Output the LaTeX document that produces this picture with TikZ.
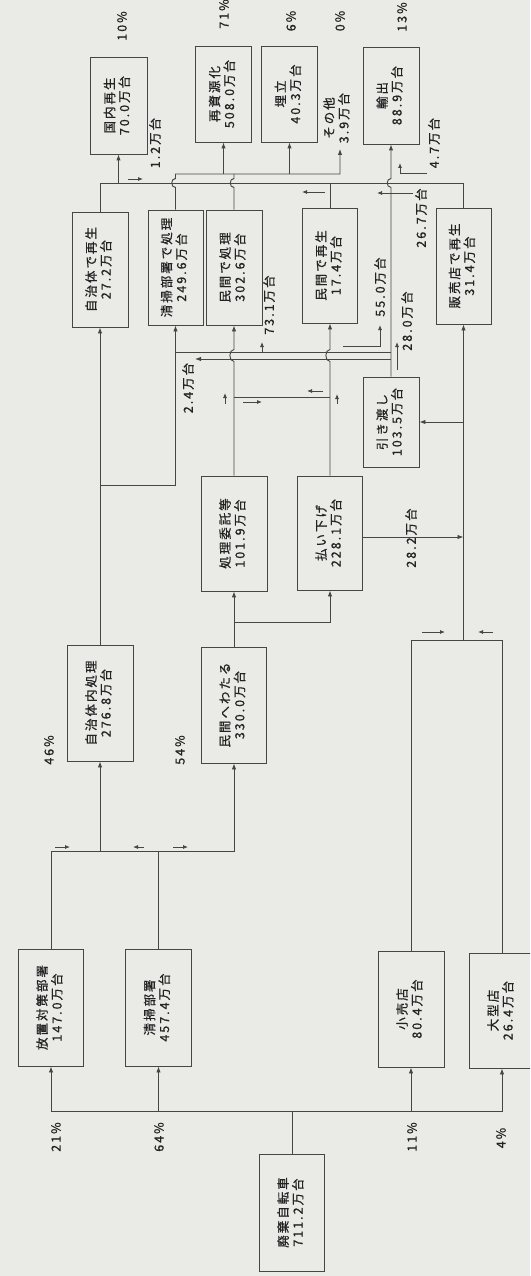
\documentclass[tikz,border=0pt]{standalone}
\usepackage{fontspec}
\newfontfamily\jp[LetterSpace=16,FakeBold=0.7]{Noto Sans CJK JP}
\usetikzlibrary{arrows.meta}
\definecolor{bg}{RGB}{234,234,231}
\definecolor{ln}{RGB}{70,70,70}
\definecolor{tx}{RGB}{35,35,35}
\newcommand\twol[2]{\rotatebox{90}{\begin{tabular}{@{}c@{}}#1\\#2\end{tabular}}}
\newcommand\onel[1]{\rotatebox{90}{#1}}
\begin{document}
\begin{tikzpicture}[x=1pt,y=-1pt,
  box/.style={draw=ln, line width=0.9pt, inner sep=0pt, text=tx, font=\jp\fontsize{12.5}{14}\selectfont},
  lab/.style={inner sep=0pt, text=tx, font=\jp\fontsize{12.5}{14}\selectfont},
  line/.style={draw=ln, line width=0.9pt},
  arr/.style={line, -{Latex[length=6pt,width=4.5pt]}},
  sarr/.style={draw=ln, line width=0.8pt, -{Latex[length=5pt,width=4pt]}},
]
\useasboundingbox (0,0) rectangle (530,1276);
\clip (0,0) rectangle (530,1276);
\fill[bg] (0,0) rectangle (530,1276);

% ---------- boxes ----------
\node[box, minimum width=57pt, minimum height=97pt] (kokunai) at (118.5,105.5) {\twol{国内再生}{70.0万台}};
\node[box, minimum width=56pt, minimum height=96pt] (shigen) at (223.5,94) {\twol{再資源化}{508.0万台}};
\node[box, minimum width=56pt, minimum height=96pt] (umetate) at (289.5,94) {\twol{埋立}{40.3万台}};
\node[box, minimum width=56pt, minimum height=97pt] (yushutsu) at (391,95.5) {\twol{輸出}{88.9万台}};

\node[box, minimum width=56pt, minimum height=115pt] (jichisai) at (100,269.5) {\twol{自治体で再生}{27.2万台}};
\node[box, minimum width=55pt, minimum height=115pt] (seisoshori) at (175.5,267.5) {\twol{清掃部署で処理}{249.6万台}};
\node[box, minimum width=56pt, minimum height=115pt] (minkanshori) at (234,267.5) {\twol{民間で処理}{302.6万台}};
\node[box, minimum width=55pt, minimum height=115pt] (minkansaisei) at (330,265.5) {\twol{民間で再生}{17.4万台}};
\node[box, minimum width=55pt, minimum height=116pt] (hanbaiten) at (463.5,266) {\twol{販売店で再生}{31.4万台}};

\node[box, minimum width=56pt, minimum height=90pt] (hikiwatashi) at (391,422) {\twol{引き渡し}{103.5万台}};
\node[box, minimum width=66pt, minimum height=115pt] (itaku) at (234,533.5) {\twol{処理委託等}{101.9万台}};
\node[box, minimum width=65pt, minimum height=114pt] (haraisage) at (330,533) {\twol{払い下げ}{228.1万台}};

\node[box, minimum width=66pt, minimum height=116pt] (jichinai) at (100,703) {\twol{自治体内処理}{276.8万台}};
\node[box, minimum width=65pt, minimum height=116pt] (minkanwataru) at (234,705) {\twol{民間へわたる}{330.0万台}};

\node[box, minimum width=65pt, minimum height=117pt] (hochi) at (51,1007.5) {\twol{放置対策部署}{147.0万台}};
\node[box, minimum width=66pt, minimum height=117pt] (seiso) at (158.5,1007.5) {\twol{清掃部署}{457.4万台}};
\node[box, minimum width=66pt, minimum height=116pt] (kouri) at (411,1009) {\twol{小売店}{80.4万台}};
\node[box, minimum width=65pt, minimum height=115pt] (ogata) at (502,1010.5) {\twol{大型店}{26.4万台}};
\node[box, minimum width=65pt, minimum height=117pt] (haiki) at (292,1212.5) {\twol{廃棄自転車}{711.2万台}};

% ---------- labels ----------
\node[lab] (p10) at (122,26) {\onel{10\%}};
\node[lab] (p71) at (224,14) {\onel{71\%}};
\node[lab] (p6) at (291,21) {\onel{6\%}};
\node[lab] (p0) at (340,21) {\onel{0\%}};
\node[lab] (p13) at (402,17) {\onel{13\%}};
\node[lab] (sonotatxt) at (338,118) {\twol{その他}{3.9万台}};
\node[lab] (l12) at (155,143) {\onel{1.2万台}};
\node[lab] (l47) at (434,143) {\onel{4.7万台}};
\node[lab] (l267) at (421,218) {\onel{26.7万台}};
\node[lab] (l731) at (269,305) {\onel{73.1万台}};
\node[lab] (l550) at (380,287) {\onel{55.0万台}};
\node[lab] (l280) at (407,321) {\onel{28.0万台}};
\node[lab] (l24) at (188,388) {\onel{2.4万台}};
\node[lab] (l282) at (411,538) {\onel{28.2万台}};
\node[lab] (p46) at (49,750) {\onel{46\%}};
\node[lab] (p54) at (180,750) {\onel{54\%}};
\node[lab] (p21) at (56,1137) {\onel{21\%}};
\node[lab] (p64) at (159,1137) {\onel{64\%}};
\node[lab] (p11) at (412,1137) {\onel{11\%}};
\node[lab] (p4) at (501,1138) {\onel{4\%}};

% ---------- level coordinates ----------
\coordinate (L1111) at (0,1111);
\coordinate (L851) at (0,851);
\coordinate (L640) at (0,640);
\coordinate (L622) at (0,622);
\coordinate (L537) at (0,537);
\coordinate (L485) at (0,485);
\coordinate (L397) at (0,397);
\coordinate (L359) at (0,359);
\coordinate (L352) at (0,352);
\coordinate (L183) at (0,183);
\coordinate (L174) at (0,174);
\coordinate (sonota) at (340,149);
\coordinate (a24) at (195,359);

% ---------- connectors: bottom ----------
\draw[line] (haiki.north) -- (haiki.north |- L1111);
\draw[arr] (haiki.north |- L1111) -| (hochi.south);
\draw[arr] (haiki.north |- L1111) -| (seiso.south);
\draw[arr] (haiki.north |- L1111) -| (kouri.south);
\draw[arr] (haiki.north |- L1111) -| (ogata.south);

\draw[arr] (hochi.north) -- (hochi.north |- L851) -| (minkanwataru.south);
\draw[line] (seiso.north) -- (seiso.north |- L851);
\draw[arr] (jichinai.south |- L851) -- (jichinai.south);

\draw[line] (kouri.north) |- (ogata.north |- L640) -- (ogata.north);
\draw[arr] (hanbaiten.south |- L640) -- (hanbaiten.south);
\draw[arr] (hanbaiten.south |- hikiwatashi.east) -- (hikiwatashi.east);
\draw[arr] (haraisage.east |- L537) -- (hanbaiten.south |- L537);

% ---------- middle ----------
\draw[arr] (jichinai.north) -- (jichisai.south);
\draw[arr] (jichinai.north |- L485) -| (seisoshori.south);
\draw[arr] (minkanwataru.north) -- (itaku.south);
\draw[arr] (minkanwataru.north |- L622) -| (haraisage.south);
\draw[line] (itaku.north |- L397) -- (haraisage.north |- L397);
\draw[arr] (itaku.north) -- (234,361.5) .. controls (228.5,361.5) and (228.5,349.5) .. (234,349.5) -- (minkanshori.south);
\draw[arr] (haraisage.north) -- (330,361.5) .. controls (324.5,361.5) and (324.5,349.5) .. (330,349.5) -- (minkansaisei.south);
\draw[line] (seisoshori.south |- L352) -- (hikiwatashi.north |- L352);
\draw[arr] (hikiwatashi.north |- L359) -- (a24);
\draw[arr] (hikiwatashi.north) -- (391,187.5) .. controls (386,187.5) and (386,178.5) .. (391,178.5) -- (yushutsu.south);

% ---------- top ----------
\draw[line] (jichisai.north) |- (hanbaiten.north |- L183) -- (hanbaiten.north);
\draw[arr] (kokunai.south |- L183) -- (kokunai.south);
\draw[line] (minkansaisei.north) -- (minkansaisei.north |- L183);
\draw[arr] (seisoshori.north) -- (175.5,187.5) .. controls (170.5,187.5) and (170.5,178.5) .. (175.5,178.5) -- (175.5,174) -| (sonota);
\draw[line] (minkanshori.north) -- (234,187.5) .. controls (229,187.5) and (229,178.5) .. (234,178.5) -- (minkanshori.north |- L174);
\draw[arr] (shigen.south |- L174) -- (shigen.south);
\draw[arr] (umetate.south |- L174) -- (umetate.south);

% ---------- small flow arrows ----------
\coordinate (s1) at (128,179);  \draw[sarr] (s1) -- ++(15,0);
\coordinate (s2) at (325,192);  \draw[sarr] (s2) -- ++(-23,0);
\coordinate (s3) at (413,193);  \draw[sarr] (s3) -- ++(-36,0);
\coordinate (s4) at (427,173);  \draw[sarr] (s4) -- ++(-27,0) -- ++(0,-10);
\coordinate (s5) at (262,352);  \draw[sarr] (s5) -- ++(0,-10);
\coordinate (s6) at (343,346);  \draw[sarr] (s6) -- ++(37,0) -- ++(0,-21);
\coordinate (s7) at (397,370);  \draw[sarr] (s7) -- ++(0,-28);
\coordinate (s8) at (225,404);  \draw[sarr] (s8) -- ++(0,-11);
\coordinate (s9) at (243,402);  \draw[sarr] (s9) -- ++(19,0);
\coordinate (s10) at (323,391); \draw[sarr] (s10) -- ++(-16,0);
\coordinate (s11) at (337,404); \draw[sarr] (s11) -- ++(0,-10);
\coordinate (s12) at (422,632); \draw[sarr] (s12) -- ++(23,0);
\coordinate (s13) at (493,632); \draw[sarr] (s13) -- ++(-15,0);
\coordinate (s14) at (55,847);  \draw[sarr] (s14) -- ++(15,0);
\coordinate (s15) at (144,847); \draw[sarr] (s15) -- ++(-11,0);
\coordinate (s16) at (173,847); \draw[sarr] (s16) -- ++(15,0);
\end{tikzpicture}
\end{document}
